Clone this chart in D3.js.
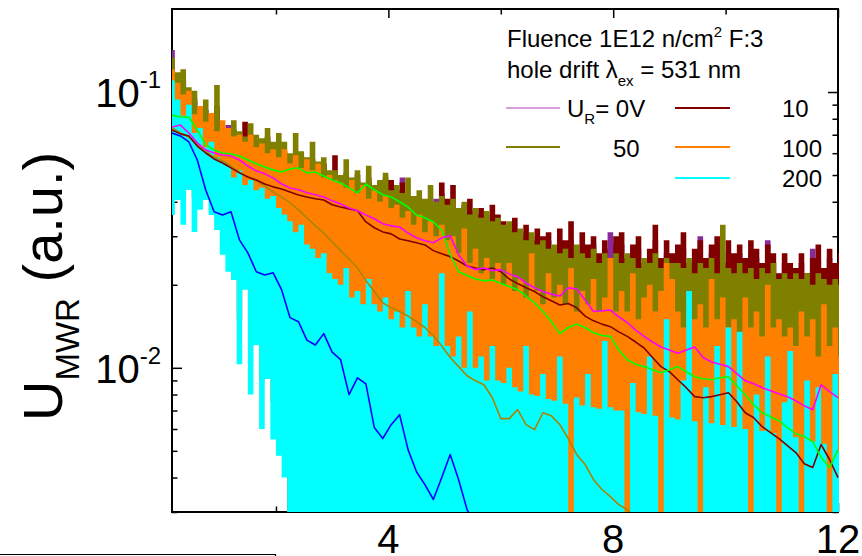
<!DOCTYPE html>
<html><head><meta charset="utf-8">
<script src="https://cdn.jsdelivr.net/npm/d3@7/dist/d3.min.js"></script>
<style>
html,body{margin:0;padding:0;background:#fff;}
svg{display:block;font-family:"Liberation Sans",Arial,Helvetica,sans-serif;}
</style></head><body>
<svg id="chart" width="862" height="556"></svg>
<script>
// ---------------- DATA ----------------
// Raw transients: sampled every 0.1 from t = 0.15 (upper and lower envelope of the noisy trace)
const rawTimes = d3.range(120).map(i => +(0.15 + 0.1 * i).toFixed(2));
const FLOOR = 0.002; // below the visible axis minimum

const raw0VHi = [0.142,0.105,0.108,0.096,0.092,0.082,0.083,0.075,0.085,0.070,
 0.076,0.071,0.066,0.067,0.065,0.066,0.062,0.067,0.061,0.063,
 0.059,0.058,0.057,0.058,0.055,0.056,0.053,0.055,0.050,0.051,
 0.048,0.050,0.046,0.048,0.045,0.047,0.044,0.045,0.046,0.043,
 0.042,0.049,0.041,0.042,0.040,0.040,0.039,0.041,0.043,0.040,
 0.038,0.036,0.038,0.037,0.035,0.036,0.033,0.036,0.034,0.032,
 0.031,0.032,0.029,0.031,0.028,0.030,0.028,0.029,0.026,0.029,
 0.027,0.029,0.025,0.028,0.026,0.028,0.025,0.027,0.031,0.028,
 0.028,0.024,0.026,0.027,0.023,0.025,0.029,0.024,0.026,0.024,
 0.026,0.027,0.023,0.025,0.030,0.024,0.026,0.027,0.023,0.026,
 0.024,0.026,0.024,0.026,0.025,0.023,0.029,0.024,0.021,0.024,
 0.023,0.022,0.024,0.021,0.027,0.025,0.022,0.025,0.023,0.024];
const raw0VLo = [0.066,0.071,0.062,0.068,0.058,0.061,0.064,0.056,0.053,0.049,0.047,0.044,0.040,0.042,0.038,0.036,0.034,0.032,0.030,0.028,0.027];

const raw10Hi = [0.122,0.110,0.112,0.099,0.095,0.084,0.086,0.076,0.089,0.071,
 0.069,0.073,0.068,0.078,0.066,0.067,0.064,0.069,0.063,0.064,
 0.061,0.058,0.058,0.059,0.056,0.057,0.055,0.055,0.051,0.059,
 0.049,0.051,0.048,0.050,0.046,0.049,0.045,0.047,0.049,0.048,
 0.044,0.047,0.042,0.041,0.041,0.040,0.040,0.039,0.047,0.041,
 0.046,0.037,0.039,0.041,0.036,0.038,0.034,0.039,0.036,0.034,
 0.032,0.035,0.030,0.033,0.029,0.032,0.030,0.031,0.027,0.032,
 0.029,0.034,0.026,0.031,0.028,0.030,0.026,0.029,0.024,0.030,
 0.031,0.025,0.028,0.030,0.024,0.027,0.033,0.025,0.029,0.026,
 0.028,0.031,0.024,0.027,0.029,0.025,0.028,0.030,0.024,0.029,
 0.026,0.028,0.025,0.029,0.027,0.024,0.028,0.026,0.022,0.026,
 0.024,0.023,0.026,0.022,0.025,0.028,0.023,0.027,0.024,0.026];
const raw10Lo = [0.068,0.073,0.064,0.070,0.060,0.063,0.066,0.058,0.055,0.051,0.049,0.046,0.041,0.043,0.039,0.037,0.035,0.033,0.031,0.029,0.028];

const raw50Hi = [0.133,0.118,0.121,0.104,0.101,0.088,0.094,0.083,0.106,0.074,
 0.071,0.079,0.072,0.069,0.077,0.070,0.068,0.074,0.066,0.071,
 0.066,0.060,0.071,0.061,0.058,0.066,0.056,0.058,0.052,0.052,
 0.050,0.057,0.049,0.052,0.047,0.054,0.046,0.048,0.051,0.044,
 0.046,0.043,0.049,0.042,0.044,0.041,0.046,0.040,0.042,0.039,
 0.041,0.038,0.040,0.036,0.038,0.035,0.037,0.034,0.035,0.033,
 0.034,0.031,0.032,0.029,0.031,0.028,0.029,0.027,0.028,0.026,
 0.027,0.025,0.028,0.026,0.025,0.027,0.024,0.026,0.025,0.026,
 0.024,0.026,0.025,0.023,0.025,0.024,0.026,0.023,0.025,0.024,
 0.024,0.023,0.025,0.022,0.024,0.023,0.025,0.022,0.033,0.023,
 0.022,0.024,0.022,0.023,0.021,0.023,0.022,0.024,0.021,0.022,
 0.021,0.022,0.021,0.022,0.020,0.022,0.021,0.020,0.021,0.020];
const raw50Lo = [0.070,0.075,0.066,0.072,0.062,0.065,0.068,0.060,0.056,0.052,0.050,0.047,0.042,0.044,0.040,0.038,0.036,0.034,0.032,0.030,0.029];

const raw100Hi = [0.121,0.108,0.098,0.101,0.083,0.089,0.078,0.084,0.072,0.079,
 0.074,0.069,0.070,0.066,0.070,0.063,0.065,0.060,0.062,0.058,
 0.062,0.055,0.059,0.053,0.057,0.052,0.055,0.049,0.050,0.048,
 0.047,0.045,0.048,0.043,0.046,0.041,0.044,0.040,0.042,0.038,
 0.039,0.035,0.037,0.033,0.036,0.031,0.034,0.030,0.033,0.029,
 0.030,0.026,0.032,0.024,0.027,0.022,0.025,0.021,0.024,0.020,
 0.024,0.019,0.021,0.018,0.026,0.019,0.017,0.022,0.018,0.020,
 0.017,0.023,0.016,0.019,0.017,0.021,0.016,0.018,0.025,0.016,
 0.019,0.016,0.022,0.015,0.018,0.020,0.016,0.019,0.024,0.021,
 0.016,0.014,0.019,0.015,0.017,0.014,0.021,0.015,0.018,0.014,
 0.015,0.013,0.018,0.014,0.016,0.013,0.020,0.014,0.015,0.013,
 0.014,0.012,0.016,0.013,0.015,0.011,0.017,0.012,0.014,0.011];
const raw100Lo = [0.046,0.052,0.043,0.055,0.041,0.048,0.052,0.045,0.040,0.033,0.029,0.027,0.015,0.024,0.012,0.016,0.0090,0.012,0.0075,0.0065,0.0080];

const raw200Hi = [0.110,0.094,0.082,0.090,0.071,0.074,0.063,0.066,0.058,0.056,
 0.054,0.049,0.052,0.046,0.048,0.044,0.045,0.041,0.042,0.038,
 0.036,0.034,0.031,0.033,0.028,0.027,0.025,0.026,0.022,0.021,
 0.020,0.023,0.018,0.019,0.017,0.021,0.017,0.016,0.018,0.015,
 0.016,0.014,0.019,0.014,0.013,0.017,0.013,0.012,0.022,0.012,
 0.011,0.013,0.010,0.016,0.010,0.011,0.009,0.012,0.009,0.0088,
 0.010,0.0085,0.0082,0.012,0.008,0.0079,0.0095,0.0077,0.0076,0.011,
 0.0074,0.0025,0.0078,0.0073,0.0095,0.0072,0.0071,0.0125,0.0072,0.0070,
 0.0070,0.0025,0.0088,0.0069,0.0068,0.011,0.0067,0.0025,0.015,0.0066,
 0.0065,0.009,0.019,0.0064,0.0025,0.0085,0.0063,0.012,0.0062,0.014,
 0.0061,0.0135,0.006,0.0025,0.008,0.0059,0.011,0.0058,0.0025,0.0075,
 0.0115,0.0056,0.0025,0.009,0.0054,0.0085,0.0053,0.0025,0.0095,0.005];
const raw200Lo = [0.0358,0.0406,0.0330,0.0441,0.0311,0.0374,0.0406,0.0358,0.0316,0.0257,0.0223,0.0208,0.0103,0.0192,0.0080,0.0121,0.0060,0.0091,0.0055,0.0048,0.0040];

// Smoothed transients: sampled every 0.15 from t = 0.15
const smoothTimes = d3.range(80).map(i => +(0.15 + 0.15 * i).toFixed(2));
const smooth0V = [0.0747,0.0759,0.0710,0.0654,0.0616,0.0601,0.0591,0.0586,0.0567,0.0539,
 0.0517,0.0505,0.0488,0.0464,0.0449,0.0442,0.0431,0.0424,0.0416,0.0403,
 0.0393,0.0380,0.0371,0.0358,0.0347,0.0333,0.0327,0.0324,0.0308,0.0296,
 0.0289,0.0284,0.0296,0.0301,0.0257,0.0234,0.0227,0.0230,0.0225,0.0227,
 0.0219,0.0214,0.0203,0.0195,0.0189,0.0185,0.0182,0.0195,0.0193,0.0176,
 0.0160,0.0161,0.0162,0.0153,0.0146,0.0137,0.0130,0.0124,0.0119,0.0116,
 0.0113,0.0116,0.0119,0.0109,0.0105,0.0103,0.0101,0.00952,0.00897,0.00875,
 0.00847,0.00826,0.00805,0.00786,0.00759,0.00728,0.00705,0.00868,0.00819,0.00779];
const smooth10 = [0.0728,0.0705,0.0693,0.0637,0.0601,0.0572,0.0553,0.0531,0.0509,0.0492,
 0.0480,0.0464,0.0453,0.0445,0.0434,0.0423,0.0416,0.0410,0.0406,0.0390,
 0.0383,0.0377,0.0371,0.0338,0.0322,0.0311,0.0306,0.0293,0.0289,0.0284,
 0.0279,0.0266,0.0259,0.0253,0.0244,0.0234,0.0230,0.0227,0.0230,0.0223,
 0.0210,0.0202,0.0195,0.0189,0.0181,0.0175,0.0169,0.0171,0.0165,0.0154,
 0.0148,0.0144,0.0141,0.0135,0.0130,0.0124,0.0118,0.0109,0.0101,0.00968,
 0.00905,0.00847,0.00786,0.00779,0.00786,0.00799,0.00812,0.00753,0.00687,0.00659,
 0.00612,0.00582,0.00554,0.00522,0.00493,0.00449,0.00435,0.00527,0.00465,0.00400];
const smooth50 = [0.0825,0.0812,0.0812,0.0728,0.0643,0.0616,0.0601,0.0596,0.0586,0.0567,
 0.0549,0.0535,0.0522,0.0513,0.0526,0.0531,0.0509,0.0513,0.0496,0.0480,
 0.0468,0.0449,0.0431,0.0464,0.0442,0.0424,0.0416,0.0400,0.0383,0.0358,
 0.0350,0.0338,0.0316,0.0257,0.0223,0.0216,0.0210,0.0207,0.0208,0.0202,
 0.0197,0.0192,0.0182,0.0172,0.0160,0.0147,0.0133,0.0140,0.0144,0.0140,
 0.0134,0.0131,0.0130,0.0116,0.0107,0.0103,0.0101,0.00984,0.00960,0.00984,
 0.0101,0.00968,0.00928,0.00913,0.00905,0.00920,0.00928,0.00861,0.00799,0.00734,
 0.00687,0.00665,0.00643,0.00607,0.00577,0.00563,0.00540,0.00473,0.00435,0.00505];
const smooth100 = [0.0741,0.0710,0.0687,0.0643,0.0611,0.0581,0.0562,0.0539,0.0513,0.0492,
 0.0476,0.0457,0.0434,0.0416,0.0396,0.0374,0.0350,0.0327,0.0308,0.0286,
 0.0266,0.0248,0.0230,0.0207,0.0189,0.0172,0.0165,0.0160,0.0154,0.0147,
 0.0140,0.0131,0.0120,0.0109,0.0101,0.00936,0.00897,0.00868,0.00779,0.00654,
 0.00654,0.00705,0.00622,0.00597,0.00687,0.00670,0.00622,0.00554,0.00485,0.00446,
 0.00393,0.00362,0.00341,0.00319,0.00306,0.00286];
const smooth200 = [0.0710,0.0693,0.0659,0.0567,0.0441,0.0368,0.0358,0.0368,0.0291,0.0261,
 0.0223,0.0217,0.0221,0.0192,0.0152,0.0147,0.0126,0.0121,0.0133,0.0114,
 0.0107,0.00799,0.00920,0.00875,0.00607,0.00554,0.00622,0.00676,0.00505,0.00420,
 0.00377,0.00333,0.00400,0.00485,0.00393,0.00306,0.00270];

// Axis ticks
const xMajorTicks = [4, 8, 12];
const xMinorTicks = [2, 6, 10];
const xTickLabels = ["4", "8", "12"];
const yMajorTicks = [0.01, 0.1];
const yTickExponents = ["-2", "-1"];
const yMinorTicks = [0.003,0.004,0.005,0.006,0.007,0.008,0.009,0.02,0.03,0.04,0.05,0.06,0.07,0.08,0.09];

// Legend
const legendLabels = ["0V", "10", "50", "100", "200"];

// ---------------- DRAWING ----------------
const plot = {left:172, right:838, top:9, bottom:512};
const x = d3.scaleLinear().domain([0.15, 12]).range([plot.left, plot.right]);
const y = d3.scaleLog().domain([0.003, 0.2]).range([plot.bottom, plot.top]);
const svg = d3.select("#chart");

svg.append("defs").append("clipPath").attr("id","clip")
  .append("rect").attr("x",plot.left).attr("y",plot.top)
  .attr("width",plot.right-plot.left+1).attr("height",plot.bottom-plot.top);

// axes ticks (inward)
function tickAxis(axisFn, scale, vals, size, transform){
  const g = svg.append("g").attr("transform", transform)
    .call(axisFn(scale).tickValues(vals).tickSize(-size).tickFormat(""));
  g.select(".domain").remove();
  g.selectAll("line").attr("stroke","#000").attr("stroke-width",1.5);
}
tickAxis(d3.axisLeft, y, yMajorTicks, 10, `translate(${plot.left},0)`);
tickAxis(d3.axisLeft, y, yMinorTicks, 5.5, `translate(${plot.left},0)`);
tickAxis(d3.axisRight, y, yMajorTicks, 10, `translate(${plot.right},0)`);
tickAxis(d3.axisRight, y, yMinorTicks, 5.5, `translate(${plot.right},0)`);
tickAxis(d3.axisBottom, x, xMajorTicks, 9, `translate(0,${plot.bottom})`);
tickAxis(d3.axisBottom, x, xMinorTicks, 5.5, `translate(0,${plot.bottom})`);
tickAxis(d3.axisTop, x, xMajorTicks, 9, `translate(0,${plot.top})`);
tickAxis(d3.axisTop, x, xMinorTicks, 5.5, `translate(0,${plot.top})`);

svg.append("rect").attr("x",plot.left).attr("y",plot.top)
  .attr("width",plot.right-plot.left).attr("height",plot.bottom-plot.top)
  .attr("fill","none").attr("stroke","#000").attr("stroke-width",2);

// data layer
const dataG = svg.append("g").attr("clip-path","url(#clip)");

const rawSeries = [
  {hi: raw0VHi, lo: raw0VLo, color: "#8a2a9a"},
  {hi: raw10Hi, lo: raw10Lo, color: "#800000"},
  {hi: raw50Hi, lo: raw50Lo, color: "#808000"},
  {hi: raw100Hi, lo: raw100Lo, color: "#ff8000"},
  {hi: raw200Hi, lo: raw200Lo, color: "#00ffff"}
];
const areaGen = d3.area().curve(d3.curveStep)
  .x(d => x(d.t)).y0(d => y(d.lo)).y1(d => y(d.hi));
rawSeries.forEach(s => {
  const pts = s.hi.map((v,i) => ({t: rawTimes[i], hi: v, lo: i < s.lo.length ? s.lo[i] : FLOOR}));
  dataG.append("path").attr("d", areaGen(pts)).attr("fill", s.color).attr("stroke","none");
});

const smoothSeries = [
  {v: smooth100, color: "#a88400"},
  {v: smooth200, color: "#0000ff"},
  {v: smooth10, color: "#800000"},
  {v: smooth50, color: "#00ff00"},
  {v: smooth0V, color: "#ff00ff"}
];
const lineGen = d3.line().x(d => x(d.t)).y(d => y(d.v));
smoothSeries.forEach(s => {
  const pts = s.v.map((v,i) => ({t: smoothTimes[i], v}));
  dataG.append("path").attr("d", lineGen(pts)).attr("fill","none")
    .attr("stroke", s.color).attr("stroke-width",1.6).attr("stroke-linejoin","round");
});

// tick labels
yMajorTicks.forEach((v,i) => {
  const t = svg.append("text").attr("x",161).attr("y",y(v)+15)
    .attr("text-anchor","end").attr("font-size",40).attr("fill","#000");
  t.append("tspan").text("10");
  t.append("tspan").attr("font-size",24).attr("dy",-19).text(yTickExponents[i]);
});
xMajorTicks.forEach((v,i) => {
  svg.append("text").attr("x",x(v)).attr("y",553).attr("text-anchor","middle")
    .attr("font-size",40).attr("fill","#000").text(xTickLabels[i]);
});

// y axis title
const yt = svg.append("text").attr("transform","translate(62,421) rotate(-90)")
  .attr("font-size",56).attr("fill","#000");
yt.append("tspan").text("U");
yt.append("tspan").attr("font-size",33).attr("dy",17).text("MWR");
yt.append("tspan").attr("dy",-17).text("\u00A0(a.u.)");

// legend title
const lt1 = svg.append("text").attr("x",507).attr("y",47).attr("font-size",24).attr("fill","#000");
lt1.append("tspan").text("Fluence 1E12 n/cm");
lt1.append("tspan").attr("font-size",15).attr("dy",-10).text("2");
lt1.append("tspan").attr("dy",10).text("\u00A0F:3");
const lt2 = svg.append("text").attr("x",507).attr("y",78).attr("font-size",24).attr("fill","#000");
lt2.append("tspan").text("hole drift \u03BB");
lt2.append("tspan").attr("font-size",15).attr("dy",8).text("ex");
lt2.append("tspan").attr("dy",-8).text("\u00A0= 531 nm");

// legend entries
const legendPos = [
  {x1:506, x2:560, ly:108, tx:567, ty:117, color:"#c880d0", w:1.3},
  {x1:675, x2:730, ly:108, tx:782, ty:117, color:"#800000", w:2.2},
  {x1:506, x2:560, ly:147, tx:613, ty:157, color:"#808000", w:2.2},
  {x1:675, x2:730, ly:147, tx:782, ty:157, color:"#ff8000", w:2.2},
  {x1:675, x2:730, ly:178, tx:782, ty:187, color:"#00ffff", w:2.2}
];
legendLabels.forEach((lab,i) => {
  const p = legendPos[i];
  svg.append("line").attr("x1",p.x1).attr("x2",p.x2).attr("y1",p.ly).attr("y2",p.ly)
    .attr("stroke",p.color).attr("stroke-width",p.w);
  const t = svg.append("text").attr("x",p.tx).attr("y",p.ty).attr("font-size",24).attr("fill","#000");
  if (i === 0) {
    t.append("tspan").text("U");
    t.append("tspan").attr("font-size",15).attr("dy",7).text("R");
    t.append("tspan").attr("dy",-7).text("= " + lab);
  } else {
    t.text(lab);
  }
});

// fragment of the neighbouring figure at the bottom edge
svg.append("path").attr("d","M0,554.5H275.5V556").attr("fill","none")
  .attr("stroke","#000").attr("stroke-width",1.2);
</script>
</body></html>
